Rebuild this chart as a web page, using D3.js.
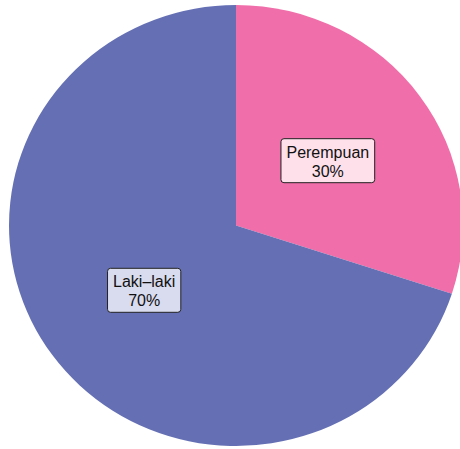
<html>
<head>
  <meta charset="utf-8">
  <script src="https://d3js.org/d3.v7.min.js"></script>
  <style>body{margin:0;background:#fff;}</style>
</head>
<body>
<div id="chart"></div>
<script>
// data
var categories = ["Perempuan", "Laki\u2013laki"];
var values = [30, 70];
var labels = ["30%", "70%"];
var colors = ["#f06ea9", "#6570b4"];
var boxFills = ["#fde0ea", "#d9dbef"];

var width = 460, height = 449;
var cx = 236, cy = 225.5, rx = 227, ry = 220.5;

var svg = d3.select("#chart").append("svg")
  .attr("width", width).attr("height", height);

var g = svg.append("g")
  .attr("transform", "translate(" + cx + "," + cy + ") scale(" + (rx / ry) + ",1)");

var pie = d3.pie().sort(null).value(function(d) { return d; });
var arcs = pie(values);
var arc = d3.arc().innerRadius(0).outerRadius(ry);
var labelArc = d3.arc().innerRadius(ry * 0.5).outerRadius(ry * 0.5);

g.selectAll("path").data(arcs).enter().append("path")
  .attr("d", arc)
  .attr("fill", function(d, i) { return colors[i]; });

// labels
var lab = svg.append("g").attr("transform", "translate(" + cx + "," + cy + ")");
arcs.forEach(function(d, i) {
  var c = labelArc.centroid(d);
  var x = c[0] * rx / ry, y = c[1];
  var grp = lab.append("g").attr("transform", "translate(" + x + "," + y + ")");
  var t1 = grp.append("text").attr("text-anchor", "middle").attr("y", -3)
    .style("font-family", "Liberation Sans, Arial, sans-serif").style("font-size", "16px")
    .attr("fill", "#111").text(categories[i]);
  var t2 = grp.append("text").attr("text-anchor", "middle").attr("y", 16)
    .style("font-family", "Liberation Sans, Arial, sans-serif").style("font-size", "16px")
    .attr("fill", "#111").text(labels[i]);
  var w = Math.max(t1.node().getComputedTextLength(), t2.node().getComputedTextLength()) + 11;
  grp.insert("rect", "text")
    .attr("x", -w / 2).attr("y", -22).attr("width", w).attr("height", 44)
    .attr("rx", 3).attr("fill", boxFills[i]).attr("stroke", "#222").attr("stroke-width", 1);
});
</script>
</body>
</html>
